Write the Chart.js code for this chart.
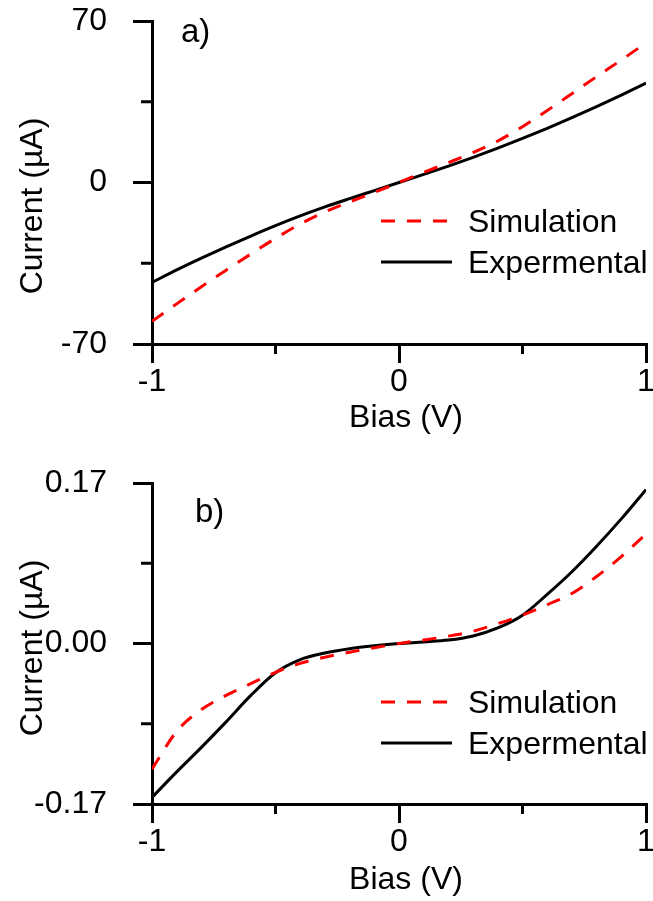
<!DOCTYPE html>
<html lang="en">
<head>
    <meta charset="UTF-8">
    <title>I-V curves</title>
    <script src="https://cdn.jsdelivr.net/npm/chart.js"></script>
    <style>
        body { margin: 0; background: #fff; }
        canvas { display: block; }
    </style>
</head>
<body>
    <canvas id="chartA" width="653" height="450"></canvas>
    <canvas id="chartB" width="653" height="451"></canvas>

    <script>
        // values
        const bias = [-1, -0.9, -0.8, -0.7, -0.6, -0.5, -0.4, -0.3, -0.2, -0.1, 0, 0.1, 0.2, 0.3, 0.4, 0.5, 0.6, 0.7, 0.8, 0.9, 1];
        const simA = [-60.2, -52.6, -45.2, -38.0, -31.0, -24.2, -18.0, -12.8, -8.4, -4.3, 0, 4.4, 8.6, 13.0, 18.0, 24.2, 31.2, 38.5, 45.9, 53.1, 60.5];
        const expA = [-43.3, -37.9, -32.8, -27.9, -23.2, -18.7, -14.5, -10.6, -7.0, -3.5, 0, 3.5, 7.1, 10.9, 14.9, 19.1, 23.5, 28.1, 32.9, 37.9, 43.1];
        const simB = [-0.133, -0.093, -0.070, -0.055, -0.0425, -0.0305, -0.021, -0.0145, -0.0092, -0.0045, 0, 0.0037, 0.0078, 0.013, 0.021, 0.030, 0.041, 0.053, 0.071, 0.092, 0.116];
        const expB = [-0.163, -0.136, -0.110, -0.083, -0.055, -0.031, -0.017, -0.010, -0.0055, -0.0024, 0, 0.0016, 0.0036, 0.008, 0.0165, 0.030, 0.052, 0.076, 0.103, 0.132, 0.163];
        const seriesNames = ["Simulation", "Expermental"];

        const xTicks = [-1, 0, 1];
        const xMinor = [-0.5, 0.5];
        const yTicksA = [-70, 0, 70];
        const yMinorA = [-35, 35];
        const yTicksB = [-0.17, 0, 0.17];
        const yMinorB = [-0.085, 0.085];

        const FONT = "'Liberation Sans', Arial, sans-serif";
        Chart.defaults.font.family = FONT;
        Chart.defaults.font.size = 32;
        Chart.defaults.color = "#000";

        function points(values) {
            return bias.map((x, i) => ({ x: x, y: values[i] }));
        }

        // minor ticks, axis titles, legend inside the plot and the panel letter
        const decor = {
            id: "decor",
            afterDraw(chart, args, o) {
                const ctx = chart.ctx;
                const xs = chart.scales.x, ys = chart.scales.y;
                ctx.save();
                ctx.strokeStyle = "#000";
                ctx.lineWidth = 3;
                ctx.beginPath();
                o.xMinor.forEach(v => {
                    const p = xs.getPixelForValue(v);
                    ctx.moveTo(p, ys.bottom);
                    ctx.lineTo(p, ys.bottom + 10);
                });
                o.yMinor.forEach(v => {
                    const p = ys.getPixelForValue(v);
                    ctx.moveTo(xs.left, p);
                    ctx.lineTo(xs.left - 11, p);
                });
                ctx.stroke();

                ctx.font = "32px " + FONT;
                ctx.fillStyle = "#000";

                // axis titles
                ctx.textAlign = "center";
                ctx.textBaseline = "middle";
                ctx.fillText("Bias (V)", (xs.left + xs.right) / 2 + 7, o.xTitleY);
                ctx.save();
                ctx.translate(33, o.yTitleY);
                ctx.rotate(-Math.PI / 2);
                ctx.fillText("Current (\u00b5A)", 0, 0);
                ctx.restore();

                // legend
                ctx.textAlign = "left";
                ctx.textBaseline = "alphabetic";
                chart.data.datasets.forEach((ds, i) => {
                    const y = o.legendY + i * 41;
                    ctx.strokeStyle = ds.borderColor;
                    ctx.setLineDash(ds.borderDash || []);
                    ctx.beginPath();
                    ctx.moveTo(o.legendX, y);
                    ctx.lineTo(o.legendX + 71, y);
                    ctx.stroke();
                    ctx.setLineDash([]);
                    ctx.fillText(ds.label, o.legendX + 87, y + 11);
                });

                ctx.font = "33px " + FONT;
                ctx.fillText(o.label, o.labelX, o.labelY);
                ctx.restore();
            }
        };

        function makeChart(id, sim, exp, yTicks, yMinor, fmt, lay) {
            return new Chart(document.getElementById(id), {
                type: "line",
                data: {
                    datasets: [
                        { label: seriesNames[0], data: points(sim), borderColor: "#ff0000", borderWidth: 3, borderDash: [14, 12] },
                        { label: seriesNames[1], data: points(exp), borderColor: "#000000", borderWidth: 3 }
                    ]
                },
                options: {
                    responsive: false,
                    animation: false,
                    devicePixelRatio: 1,
                    layout: { padding: { top: lay.top, right: 7, bottom: 0, left: 0 } },
                    elements: {
                        point: { radius: 0 },
                        line: { cubicInterpolationMode: "monotone" }
                    },
                    plugins: {
                        legend: { display: false },
                        tooltip: { enabled: false },
                        decor: {
                            xMinor: xMinor, yMinor: yMinor,
                            xTitleY: lay.xTitleY, yTitleY: lay.yTitleY,
                            legendX: 381, legendY: lay.legendY,
                            label: lay.label, labelX: lay.labelX, labelY: lay.labelY
                        }
                    },
                    scales: {
                        x: {
                            type: "linear",
                            min: -1, max: 1,
                            afterBuildTicks: s => { s.ticks = xTicks.map(v => ({ value: v })); },
                            afterFit: s => { s.height = lay.xHeight; s.paddingLeft = 0; s.paddingRight = 0; },
                            grid: { drawOnChartArea: false, tickLength: 19, lineWidth: 3, color: "#000" },
                            border: { display: true, width: 3, color: "#000" },
                            ticks: { padding: 0, maxRotation: 0, callback: v => String(v) }
                        },
                        y: {
                            min: yTicks[0], max: yTicks[yTicks.length - 1],
                            afterBuildTicks: s => { s.ticks = yTicks.map(v => ({ value: v })); },
                            afterFit: s => { s.width = 152; s.paddingTop = 0; s.paddingBottom = 0; },
                            grid: { drawOnChartArea: false, tickLength: 19, lineWidth: 3, color: "#000" },
                            border: { display: true, width: 3, color: "#000" },
                            ticks: { padding: 26, callback: fmt }
                        }
                    }
                },
                plugins: [decor]
            });
        }

        makeChart("chartA", simA, expA, yTicksA, yMinorA, v => String(v),
            { top: 21, xHeight: 106, xTitleY: 418, yTitleY: 206, legendY: 221, label: "a)", labelX: 181, labelY: 42 });
        makeChart("chartB", simB, expB, yTicksB, yMinorB, v => v.toFixed(2),
            { top: 33, xHeight: 97, xTitleY: 430, yTitleY: 198, legendY: 252, label: "b)", labelX: 195, labelY: 72 });
    </script>
</body>
</html>
